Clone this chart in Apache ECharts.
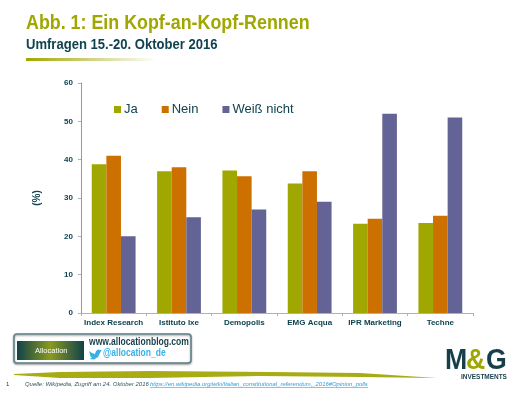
<!DOCTYPE html>
<html>
<head>
<meta charset="utf-8">
<script src="https://cdn.jsdelivr.net/npm/echarts@6/dist/echarts.min.js"></script>
<style>
html, body { margin: 0; padding: 0; background: #fff; }
#chart { width: 526px; height: 394px; }
</style>
</head>
<body>
<div id="chart"></div>
<script>
var categories = ['Index Research', 'Istituto Ixe', 'Demopolis', 'EMG Acqua', 'IPR Marketing', 'Techne'];
var ja = [38.8, 37, 37.2, 33.8, 23.3, 23.5];
var nein = [41, 38, 35.7, 37, 24.6, 25.4];
var weissNicht = [20, 25, 27, 29, 52, 51];

var font = '"Liberation Sans", Arial, sans-serif';
var dark = '#0f4350';
var olive = '#9fa700';
var link = '#2f9fdc';

var myChart = echarts.init(document.getElementById('chart'));

function barSeries(name, data, color) {
	return {
		name: name,
		type: 'bar',
		data: data,
		barWidth: 14.6,
		barGap: 0,
		animation: false,
		itemStyle: { color: color }
	};
}

// sx: the reference text is horizontally squeezed
function label(x, y, text, size, color, bold, sx, italic) {
	return {
		type: 'text', silent: true,
		x: x, y: y, scaleX: sx || 1,
		style: {
			text: text, fontFamily: font, fontSize: size, fill: color,
			fontWeight: bold ? 'bold' : 'normal',
			fontStyle: italic ? 'italic' : 'normal'
		}
	};
}

var option = {
	animation: false,
	backgroundColor: '#fff',
	legend: {
		left: 114, top: 103,
		padding: 0,
		itemWidth: 7, itemHeight: 7, itemGap: 24,
		icon: 'rect',
		textStyle: { color: dark, fontFamily: font, fontSize: 13, padding: [0, 0, 0, -2] },
		data: ['Ja', 'Nein', 'Weiß nicht']
	},
	grid: { left: 81, top: 83, width: 392, height: 230, containLabel: false },
	xAxis: {
		type: 'category',
		data: categories,
		axisLine: { lineStyle: { color: '#a9b4b8', width: 1 } },
		axisTick: { show: true, length: 3, lineStyle: { color: '#a9b4b8' } },
		axisLabel: { color: dark, fontFamily: font, fontSize: 8, fontWeight: 'bold', margin: 6, interval: 0 }
	},
	yAxis: {
		type: 'value',
		min: 0, max: 60, interval: 10,
		name: '(%)',
		nameLocation: 'middle',
		nameGap: 39,
		nameTextStyle: { color: dark, fontFamily: font, fontSize: 10, fontWeight: 'bold' },
		splitLine: { show: false },
		axisLine: { show: true, lineStyle: { color: '#8a9ca1', width: 1 } },
		axisTick: { show: true, length: 3, lineStyle: { color: '#a9b4b8' } },
		axisLabel: { color: dark, fontFamily: font, fontSize: 8, fontWeight: 'bold', margin: 8 }
	},
	series: [
		barSeries('Ja', ja, olive),
		barSeries('Nein', nein, '#cc7000'),
		barSeries('Weiß nicht', weissNicht, '#636395')
	],
	graphic: [
		label(26, 13, 'Abb. 1: Ein Kopf-an-Kopf-Rennen', 21, olive, true, 0.85),
		label(26, 37, 'Umfragen 15.-20. Oktober 2016', 15, dark, true, 0.87),
		// Linie unter dem Titel
		{
			type: 'rect', silent: true,
			shape: { x: 26, y: 58, width: 130, height: 3 },
			style: {
				fill: new echarts.graphic.LinearGradient(0, 0, 1, 0, [
					{ offset: 0, color: olive },
					{ offset: 1, color: 'rgba(159,167,0,0)' }
				])
			}
		},
		// Allocation Kasten
		{
			type: 'rect', silent: true,
			shape: { x: 14, y: 334, width: 177, height: 29, r: 3 },
			style: { fill: '#fff', stroke: '#5f8087', lineWidth: 1.5, shadowBlur: 2, shadowColor: '#999', shadowOffsetY: 1 }
		},
		{
			type: 'rect', silent: true,
			shape: { x: 17, y: 341, width: 67, height: 19 },
			style: {
				fill: new echarts.graphic.LinearGradient(0, 0, 1, 0, [
					{ offset: 0, color: '#10424a' },
					{ offset: 0.5, color: '#8a9a20' },
					{ offset: 1, color: '#10424a' }
				])
			}
		},
		label(35, 347, 'Allocation', 7.5, '#fff', false),
		label(89, 337, 'www.allocationblog.com', 10, '#173f4a', true, 0.855),
		label(103, 348, '@allocation_de', 10, '#37b0e6', true, 0.85),
		// Twitter Vogel
		{
			type: 'polygon', silent: true,
			shape: {
				points: [[89, 351], [92, 353], [95, 354], [96, 351], [98, 349.5], [100, 350], [101.5, 350],
					[100.8, 351.5], [100, 353], [98, 357], [94, 359.5], [89.5, 359], [92, 357.8], [90.5, 356.5], [90, 354]]
			},
			style: { fill: '#37b0e6' }
		},
		// Pinselstrich
		{
			type: 'polygon', silent: true,
			shape: {
				points: [[14, 374], [60, 372], [150, 371], [270, 372], [360, 373], [437, 378],
					[360, 377], [260, 376], [150, 378], [60, 378], [14, 375]]
			},
			style: { fill: '#a8ac14' }
		},
		// M&G Logo
		label(445, 346, 'M', 29, '#173f4a', true, 0.92),
		label(486, 346, 'G', 29, '#173f4a', true, 0.92),
		label(466, 346, '&', 29, olive, true, 0.92),
		label(461, 374, 'INVESTMENTS', 6.8, '#173f4a', true, 0.95),
		// Fusszeile
		label(6, 381, '1', 6, dark),
		label(25, 381, 'Quelle: Wikipedia, Zugriff am 24. Oktober 2016', 6, '#33555e', false, 0.99, true),
		label(150, 381, 'https://en.wikipedia.org/wiki/Italian_constitutional_referendum,_2016#Opinion_polls', 6, link, false, 0.985, true),
		{
			type: 'line', silent: true,
			shape: { x1: 150, y1: 387.5, x2: 368, y2: 387.5 },
			style: { stroke: link, lineWidth: 0.6 }
		}
	]
};

myChart.setOption(option);
</script>
</body>
</html>
